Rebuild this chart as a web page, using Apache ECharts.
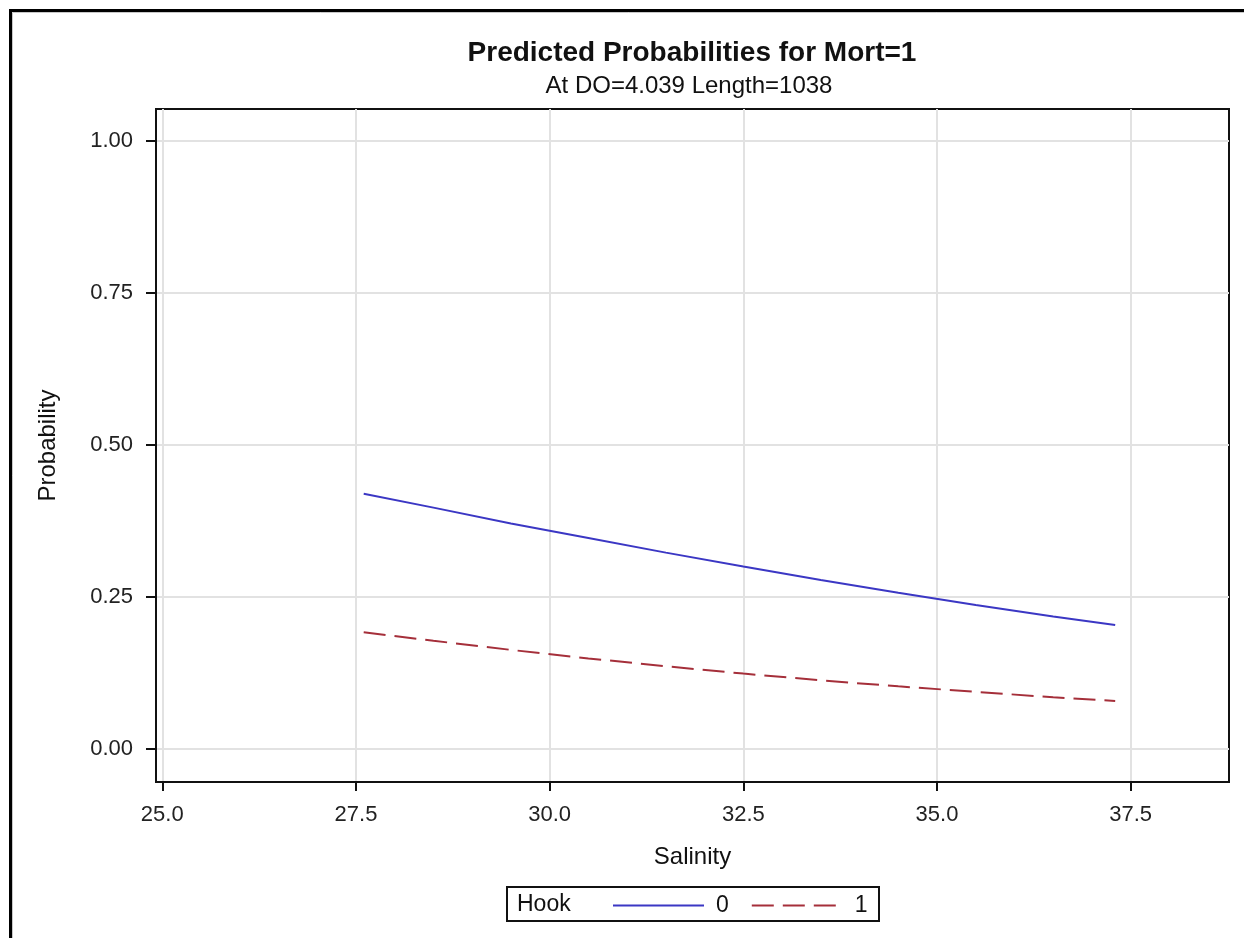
<!DOCTYPE html>
<html>
<head>
<meta charset="utf-8">
<title>Predicted Probabilities for Mort=1</title>
<script src="https://cdn.jsdelivr.net/npm/echarts@6/dist/echarts.min.js"></script>
<style>
  html, body { margin: 0; padding: 0; background: #fff; }
  #chart { width: 1244px; height: 938px; }
</style>
</head>
<body>
<div id="chart"></div>
<script>
var salinity = [27.6, 28.5, 29.5, 30.5, 31.5, 32.5, 33.5, 34.5, 35.5, 36.5, 37.3];
// predicted probability, Hook = 0 (solid blue)
var hook0 = [0.420, 0.397, 0.371, 0.347, 0.323, 0.300, 0.278, 0.257, 0.237, 0.218, 0.204];
// predicted probability, Hook = 1 (dashed red)
var hook1 = [0.192, 0.178, 0.163, 0.149, 0.136, 0.124, 0.113, 0.103, 0.094, 0.085, 0.079];

var xTicks = [25.0, 27.5, 30.0, 32.5, 35.0, 37.5];
var yTicks = [0.00, 0.25, 0.50, 0.75, 1.00];

var font = "'Liberation Sans', Arial, sans-serif";

function pairs(xs, ys) {
  var out = [];
  for (var i = 0; i < xs.length; i++) {
    out.push([xs[i], ys[i]]);
  }
  return out;
}

var chart = echarts.init(document.getElementById('chart'), null, { renderer: 'canvas' });

var option = {
  backgroundColor: '#fff',
  animation: false,
  textStyle: { fontFamily: font },
  grid: {
    left: 156,
    top: 109,
    right: 15,
    bottom: 156,
    show: true,
    borderColor: '#111',
    borderWidth: 2
  },
  legend: {
    data: ['0', '1'],
    left: 612,
    top: 894,
    padding: 0,
    itemGap: 22,
    itemWidth: 91,
    itemHeight: 14,
    itemStyle: { opacity: 0 },   // line only, no marker
    textStyle: { fontSize: 23, color: '#111', padding: [0, 0, 0, 7] }
  },
  xAxis: {
    type: 'value',
    min: 24.919,
    max: 38.769,
    name: 'Salinity',
    nameLocation: 'middle',
    nameGap: 63,
    nameTextStyle: { fontSize: 24, color: '#111' },
    axisLine: { onZero: false, lineStyle: { color: '#111', width: 2 } },
    axisTick: { show: true, length: 9, lineStyle: { color: '#111', width: 2 }, customValues: xTicks },
    axisLabel: {
      fontSize: 22, color: '#222', margin: 22,
      customValues: xTicks,
      formatter: function (v) { return v.toFixed(1); }
    },
    splitLine: { show: true, lineStyle: { color: '#e2e2e2', width: 2 } }
  },
  yAxis: {
    type: 'value',
    min: -0.0543,
    max: 1.0527,
    name: 'Probability',
    nameLocation: 'middle',
    nameGap: 96,
    nameTextStyle: { fontSize: 24, color: '#111' },
    axisLine: { show: true, onZero: false, lineStyle: { color: '#111', width: 2 } },
    axisTick: { show: true, length: 10, lineStyle: { color: '#111', width: 2 }, customValues: yTicks },
    axisLabel: {
      fontSize: 22, color: '#222', margin: 23,
      customValues: yTicks,
      formatter: function (v) { return v.toFixed(2); }
    },
    splitLine: { show: true, lineStyle: { color: '#e2e2e2', width: 2 } }
  },
  series: [{
    name: '0',
    type: 'line',
    symbol: 'none',
    smooth: false,
    lineStyle: { color: '#3b37c4', width: 2 },
    itemStyle: { color: '#3b37c4' },
    data: pairs(salinity, hook0)
  }, {
    name: '1',
    type: 'line',
    symbol: 'none',
    smooth: false,
    lineStyle: { color: '#a52f3a', width: 2, type: [22, 9] },
    itemStyle: { color: '#a52f3a' },
    data: pairs(salinity, hook1)
  }],
  graphic: [
    // outer frame, only top and left edges fall inside the picture
    {
      type: 'rect',
      shape: { x: 10.5, y: 10.5, width: 1400, height: 1100 },
      style: { fill: 'none', stroke: '#000', lineWidth: 3 },
      silent: true
    },
    {
      type: 'rect',
      shape: { x: 12.5, y: 12.5, width: 1400, height: 1100 },
      style: { fill: 'none', stroke: '#c8c8c8', lineWidth: 1 },
      silent: true
    },
    {
      type: 'text',
      style: {
        text: 'Predicted Probabilities for Mort=1',
        x: 692, y: 53,
        textAlign: 'center', textVerticalAlign: 'middle',
        align: 'center', verticalAlign: 'middle',
        font: 'bold 28px ' + font,
        fill: '#111'
      }
    },
    {
      type: 'text',
      style: {
        text: 'At DO=4.039 Length=1038',
        x: 689, y: 86,
        textAlign: 'center', textVerticalAlign: 'middle',
        align: 'center', verticalAlign: 'middle',
        font: '24px ' + font,
        fill: '#111'
      }
    },
    // legend box with its title
    {
      type: 'rect',
      shape: { x: 507, y: 887, width: 372, height: 34 },
      style: { fill: 'none', stroke: '#111', lineWidth: 2 },
      silent: true
    },
    {
      type: 'text',
      style: {
        text: 'Hook',
        x: 517, y: 905,
        textAlign: 'left', textVerticalAlign: 'middle',
        align: 'left', verticalAlign: 'middle',
        font: '23px ' + font,
        fill: '#111'
      }
    }
  ]
};

chart.setOption(option);
</script>
</body>
</html>
